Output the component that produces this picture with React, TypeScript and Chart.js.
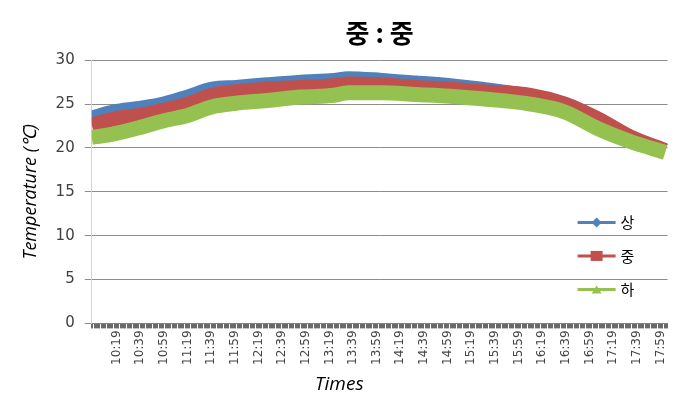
import React, { useEffect, useRef } from "react";
import { Chart, registerables } from "chart.js";

Chart.register(...registerables);

const chartTitle = "중 : 중";
const xAxisTitle = "Times";
const yAxisTitle = "Temperature (℃)";
const seriesNames = ["상", "중", "하"];
const seriesColors = ["#4F81BD", "#C0504D", "#94C150"];

const sampleTimes = [
  "09:58", "10:17", "10:38", "10:59", "11:19", "11:40", "12:00", "12:26", "12:55", "13:23",
  "13:35", "14:03", "14:32", "15:01", "15:28", "16:09", "16:38", "17:06", "17:34", "18:03",
];
const upperValues = [
  23.4, 24.1, 24.5, 25.0, 25.8, 26.7, 26.9, 27.2, 27.5, 27.7,
  27.9, 27.7, 27.4, 27.1, 26.7, 25.9, 24.95, 23.25, 21.15, 19.65,
];
const middleValues = [
  22.6, 23.3, 23.7, 24.3, 25.0, 26.0, 26.4, 26.7, 26.9, 27.1,
  27.3, 27.2, 26.9, 26.7, 26.4, 26.0, 25.0, 23.3, 21.2, 19.7,
];
const lowerValues = [
  21.2, 21.6, 22.3, 23.1, 23.7, 24.7, 25.1, 25.4, 25.8, 26.0,
  26.3, 26.3, 26.1, 25.9, 25.6, 25.0, 24.1, 22.2, 20.7, 19.5,
];

const tickLabels = [
  "10:19", "10:39", "10:59", "11:19", "11:39", "11:59", "12:19", "12:39",
  "12:59", "13:19", "13:39", "13:59", "14:19", "14:39", "14:59", "15:19",
  "15:39", "15:59", "16:19", "16:39", "16:59", "17:19", "17:39", "17:59",
];
const axisStart = "09:58";
const axisEnd = "18:05";
const yMin = 0;
const yMax = 30;
const yStep = 5;

const toMin = (s: string) => {
  const [h, m] = s.split(":").map(Number);
  return h * 60 + m;
};
const fmt = (v: number) => {
  const h = Math.floor(v / 60);
  const m = Math.round(v - h * 60);
  return `${h}:${m < 10 ? "0" + m : m}`;
};

const legendPlugin = {
  id: "insideLegend",
  afterDraw(chart: any) {
    const { ctx, chartArea } = chart;
    const xs = chart.scales.x;
    ctx.save();
    ctx.fillStyle = "#000";
    ctx.font = "italic 19px 'Open Sans'";
    ctx.textAlign = "center";
    ctx.textBaseline = "middle";
    ctx.fillText(xAxisTitle, chartArea.left + (chartArea.right - chartArea.left) * 0.43, xs.bottom - 8);

    const offsets = [-101, -67.5, -34];
    seriesNames.forEach((name, i) => {
      const y = chartArea.bottom + offsets[i];
      const x0 = chartArea.right - 90;
      const x1 = chartArea.right - 52;
      const xm = (x0 + x1) / 2;
      ctx.strokeStyle = seriesColors[i];
      ctx.lineWidth = 3;
      ctx.beginPath();
      ctx.moveTo(x0, y);
      ctx.lineTo(x1, y);
      ctx.stroke();
      ctx.fillStyle = seriesColors[i];
      ctx.beginPath();
      if (i === 0) {
        ctx.moveTo(xm, y - 5);
        ctx.lineTo(xm + 5, y);
        ctx.lineTo(xm, y + 5);
        ctx.lineTo(xm - 5, y);
      } else if (i === 1) {
        ctx.rect(xm - 6, y - 5, 12, 10);
      } else {
        ctx.moveTo(xm, y - 4);
        ctx.lineTo(xm + 5, y + 4);
        ctx.lineTo(xm - 5, y + 4);
      }
      ctx.closePath();
      ctx.fill();
      ctx.fillStyle = "#000";
      ctx.font = "15px 'Noto Sans CJK KR'";
      ctx.textAlign = "left";
      ctx.textBaseline = "middle";
      ctx.fillText(name, x1 + 5, y);
    });
    ctx.restore();
  },
};

export default function App() {
  const ref = useRef<HTMLCanvasElement | null>(null);
  useEffect(() => {
    if (!ref.current) return;
    const series = [upperValues, middleValues, lowerValues];
    const chart = new Chart(ref.current, {
      type: "line",
      data: {
        datasets: series.map((vals, i) => ({
          label: seriesNames[i],
          data: sampleTimes.map((t, j) => ({ x: toMin(t), y: vals[j] })),
          borderColor: seriesColors[i],
          backgroundColor: seriesColors[i],
          borderWidth: 15,
          pointRadius: 0,
          cubicInterpolationMode: "monotone" as const,
          order: 3 - i,
        })),
      },
      options: {
        animation: false,
        responsive: true,
        maintainAspectRatio: false,
        layout: { padding: { left: 8, right: 0, top: 0, bottom: 0 } },
        plugins: {
          legend: { display: false },
          tooltip: { enabled: false },
          title: {
            display: true,
            text: chartTitle,
            fullSize: false,
            color: "#000",
            font: { family: "'Noto Sans CJK KR'", size: 26, weight: "bold", lineHeight: 1.2 },
            padding: { top: 10, bottom: 11 },
          },
        },
        scales: {
          x: {
            type: "linear",
            min: toMin(axisStart),
            max: toMin(axisEnd),
            afterBuildTicks: (scale: any) => {
              const ticks = [];
              for (let v = toMin(axisStart); v <= toMin(axisEnd); v++) ticks.push({ value: v });
              scale.ticks = ticks;
            },
            ticks: {
              autoSkip: false,
              minRotation: 90,
              maxRotation: 90,
              padding: 2,
              color: "#444",
              font: { family: "'DejaVu Sans'", size: 12 },
              callback: (v: any) => {
                const s = fmt(Number(v));
                return tickLabels.includes(s) ? s : "";
              },
            },
            grid: {
              display: true,
              drawOnChartArea: false,
              drawTicks: true,
              tickLength: 5,
              color: "#6a6a6a",
            },
            border: { display: true, color: "#808080" },
            title: {
              display: true,
              text: xAxisTitle,
              color: "rgba(0,0,0,0)",
              font: { family: "'Open Sans'", size: 19, style: "italic", lineHeight: 1 },
              padding: { top: 2, bottom: 5 },
            },
          },
          y: {
            min: yMin,
            max: yMax,
            ticks: {
              stepSize: yStep,
              padding: 10,
              color: "#404040",
              font: { family: "'DejaVu Sans'", size: 15 },
            },
            grid: { color: "#8c8c8c", tickLength: 7, drawTicks: true },
            border: { display: true, color: "#d4d4d4" },
            title: {
              display: true,
              text: yAxisTitle,
              color: "#000",
              font: { family: "'Open Sans'", size: 18, style: "italic", lineHeight: 1.2 },
              padding: 4,
            },
          },
        },
      },
      plugins: [legendPlugin],
    });
    return () => chart.destroy();
  }, []);
  return (
    <div style={{ width: 676, height: 385 }}>
      <canvas ref={ref} />
    </div>
  );
}
